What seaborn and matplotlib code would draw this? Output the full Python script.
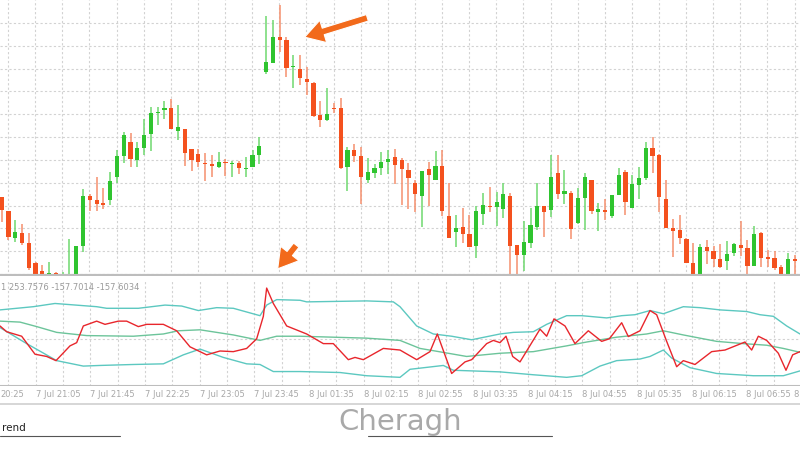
import matplotlib
matplotlib.use("Agg")
import matplotlib.pyplot as plt
import numpy as np
import pandas as pd
import seaborn as sns

# ---------------------------------------------------------------- candles (price units)
opens = [250, 208, 125, 142, 112, 52, 28, 18, 22, 10, 10, 10, 102, 252, 240, 230, 240, 310, 372, 415,
         360, 397, 438, 500, 510, 517, 448, 453, 394, 378, 352, 348, 340, 355, 348, 352, 333, 340, 375, 625,
         650, 730, 720, 638, 632, 604, 590, 495, 480, 515, 515, 338, 390, 372, 300, 320, 335, 353, 368, 360,
         330, 290, 253, 333, 300, 342, 192, 143, 158, 137, 102, 197, 222, 220, 213, 252, 105, 75, 112, 160,
         223, 210, 320, 258, 260, 172, 245, 300, 205, 210, 192, 255, 323, 217, 285, 305, 395, 375, 242, 155,
         150, 123, 50, 10, 100, 87, 62, 57, 80, 105, 95, 43, 140, 68, 65, 38, 10, 63]
closes = [210, 128, 143, 112, 35, 10, 15, 22, 12, 15, 15, 102, 252, 240, 227, 225, 297, 372, 435, 362,
          397, 435, 500, 505, 517, 452, 458, 380, 360, 355, 348, 343, 353, 350, 352, 337, 337, 375, 403, 653,
          730, 720, 635, 642, 605, 593, 492, 480, 498, 513, 335, 390, 372, 310, 325, 335, 353, 363, 345, 333,
          305, 257, 327, 315, 342, 207, 125, 157, 138, 100, 207, 225, 218, 235, 257, 102, 75, 113, 165, 223,
          203, 308, 258, 268, 153, 245, 308, 207, 212, 205, 255, 315, 233, 287, 305, 395, 373, 248, 157, 148,
          127, 52, 10, 100, 87, 62, 38, 78, 107, 95, 43, 138, 67, 63, 37, 10, 63, 58]
highs = [250, 208, 180, 168, 140, 55, 45, 55, 25, 25, 122, 102, 272, 257, 310, 275, 325, 390, 445, 440,
         415, 482, 518, 518, 538, 543, 525, 453, 394, 392, 380, 375, 385, 362, 357, 357, 368, 390, 430, 792,
         780, 825, 730, 675, 675, 640, 595, 538, 575, 530, 545, 400, 408, 400, 365, 348, 385, 390, 392, 365,
         350, 300, 327, 353, 387, 390, 292, 195, 215, 195, 222, 262, 278, 265, 292, 260, 105, 177, 215, 290,
         223, 375, 375, 330, 268, 277, 322, 300, 230, 242, 255, 335, 330, 315, 340, 415, 430, 378, 300, 183,
         195, 125, 112, 107, 120, 103, 107, 118, 110, 177, 120, 162, 145, 90, 88, 45, 80, 75]
lows = [175, 120, 115, 105, 30, 10, 10, 10, 10, 10, 10, 10, 85, 208, 207, 212, 225, 292, 352, 340,
        340, 375, 388, 465, 482, 452, 420, 343, 328, 338, 298, 308, 335, 312, 308, 318, 310, 338, 348, 618,
        650, 685, 608, 575, 585, 555, 490, 458, 478, 500, 332, 268, 355, 228, 290, 305, 315, 318, 288, 225,
        212, 205, 160, 222, 300, 192, 125, 100, 110, 100, 65, 165, 203, 163, 185, 10, 10, 28, 95, 150,
        130, 190, 242, 228, 122, 168, 150, 197, 147, 180, 185, 255, 195, 215, 243, 300, 322, 205, 155, 68,
        107, 50, 10, 10, 47, 40, 37, 30, 72, 72, 12, 42, 40, 40, 30, 10, 10, 10]

# ---------------------------------------------------------------- indicator (screen units, inverted)
cci_x = [0, 20, 65, 105, 140, 168, 210, 230, 250, 290, 315, 355, 380, 415, 440, 490, 530, 570, 620, 660,
         700, 740, 770, 790, 800, 820, 860, 920, 970, 1000, 1045, 1065, 1090, 1150, 1200, 1250, 1290, 1312,
         1355, 1395, 1415, 1460, 1480, 1500, 1518, 1538, 1560, 1620, 1640, 1662, 1695, 1725, 1765, 1805, 1828,
         1865, 1885, 1920, 1950, 1970, 2000, 2030, 2050, 2085, 2135, 2175, 2235, 2255, 2275, 2300, 2335, 2358,
         2378, 2400]
cci_y = [160, 178, 192, 248, 255, 268, 222, 212, 160, 145, 155, 145, 145, 162, 155, 155, 175, 225, 250, 238,
         240, 230, 200, 130, 42, 90, 160, 185, 215, 215, 265, 258, 265, 230, 235, 265, 240, 185, 308, 272,
         265, 215, 205, 212, 192, 255, 272, 170, 192, 138, 160, 215, 175, 208, 200, 150, 193, 175, 112, 125,
         208, 287, 268, 280, 240, 235, 210, 235, 192, 205, 245, 298, 250, 240]
up_x = [0, 100, 165, 290, 320, 415, 495, 545, 595, 650, 700, 780, 800, 830, 900, 920, 1100, 1180, 1200,
        1250, 1300, 1355, 1415, 1500, 1540, 1600, 1640, 1700, 1745, 1820, 1865, 1905, 1950, 1990, 2050, 2100,
        2160, 2240, 2280, 2320, 2360, 2400]
up_y = [110, 100, 90, 100, 105, 105, 95, 98, 112, 103, 105, 128, 95, 78, 80, 85, 82, 85, 100,
        160, 185, 192, 203, 185, 180, 178, 155, 128, 128, 135, 128, 125, 112, 122, 100, 103,
        110, 115, 125, 130, 160, 185]
mid_x = [0, 60, 110, 170, 260, 400, 490, 535, 600, 700, 780, 830, 900, 1100, 1200, 1260, 1300, 1400,
         1500, 1600, 1700, 1760, 1850, 1940, 1990, 2050, 2150, 2230, 2300, 2350, 2400]
mid_y = [145, 148, 162, 180, 190, 192, 185, 175, 172, 188, 205, 192, 192, 198, 205, 230, 237, 255,
         245, 240, 222, 210, 195, 185, 175, 188, 208, 215, 220, 230, 242]
low_x = [0, 80, 170, 250, 300, 400, 490, 550, 600, 670, 740, 780, 820, 900, 1020, 1100, 1200, 1230, 1330,
         1360, 1500, 1600, 1700, 1745, 1800, 1850, 1920, 1950, 1990, 2015, 2070, 2150, 2260, 2350, 2400]
low_y = [165, 215, 268, 285, 283, 280, 278, 250, 232, 258, 278, 280, 302, 302, 305, 315, 320, 295, 283,
         298, 303, 312, 320, 315, 285, 268, 263, 255, 235, 260, 290, 308, 315, 315, 300]

# ---------------------------------------------------------------- axis labels
time_labels = ["7 Jul 21:05", "7 Jul 21:45", "7 Jul 22:25", "7 Jul 23:05", "7 Jul 23:45",
               "8 Jul 01:35", "8 Jul 02:15", "8 Jul 02:55", "8 Jul 03:35", "8 Jul 04:15", "8 Jul 04:55",
               "8 Jul 05:35", "8 Jul 06:15", "8 Jul 06:55"]
first_label = "20:25"
last_label = "8"
readout = "1 253.7576 -157.7014 -157.6034"

GREEN = "#2fc42f"
RED = "#f4511e"
GREEN_W = "#6fd86f"
RED_W = "#f5906e"
TEAL = "#5cc8c0"
MIDC = "#6cc49a"
GRID = "#d2d2d2"

sns.set_theme(style="white")
plt.rcParams["font.family"] = ["DejaVu Sans"]

fig = plt.figure(figsize=(8, 4.5), dpi=100)
ax = fig.add_axes([0, 1 - 276 / 450, 1, 276 / 450])
ax2 = fig.add_axes([0, 1 - 386 / 450, 1, 105 / 450])

# ---- candles
df = pd.DataFrame({"o": opens, "c": closes, "h": highs, "l": lows})
df["i"] = np.arange(len(df))
up = df["c"] >= df["o"]
ax.vlines(df["i"][up], df["l"][up], df["h"][up], color=GREEN_W, lw=1.1, zorder=2)
ax.vlines(df["i"][~up], df["l"][~up], df["h"][~up], color=RED_W, lw=1.1, zorder=2)
body_lo = df[["o", "c"]].min(axis=1)
body_h = (df["c"] - df["o"]).abs().clip(lower=3)
ax.bar(df["i"], body_h, bottom=body_lo, width=0.62,
       color=[GREEN if u else RED for u in up], zorder=3, linewidth=0)
ax.set_xlim(-0.25, 117.75)
ax.set_ylim(12, 840)
ax.set_xticks(np.arange(0.95, 118, 4))
ax.set_yticks(np.arange(18, 840, 68.5))
ax.grid(True, color=GRID, ls=(0, (2, 2)), lw=0.8)
ax.tick_params(left=False, bottom=False, labelleft=False, labelbottom=False)
for s in ax.spines.values():
    s.set_visible(False)
ax.axhline(12, color="#bdbdbd", lw=3, zorder=5)

# ---- indicator
for xs, ys, col in [(up_x, up_y, TEAL), (mid_x, mid_y, MIDC), (low_x, low_y, TEAL), (cci_x, cci_y, "#e8262c")]:
    sns.lineplot(x=xs, y=ys, ax=ax2, color=col, lw=1.0, sort=False, estimator=None)
ax2.set_xlim(0, 2400)
ax2.set_ylim(347, 20)
ax2.set_xticks(np.arange(25, 2400, 82))
ax2.set_yticks([200])
ax2.grid(True, color=GRID, ls=(0, (2, 2)), lw=0.8)
ax2.tick_params(left=False, bottom=False, labelleft=False, labelbottom=False)
for s in ax2.spines.values():
    s.set_visible(False)
ax2.axhline(347, color="#bdbdbd", lw=1.5)
ax2.text(2, 25, readout, fontsize=6.0, color="#9a9a9a", va="top", ha="left")
ax2.text(2, 358, first_label, fontsize=6.0, color="#a8a8a8", va="top", ha="left")
for k, lab in enumerate(time_labels):
    ax2.text(107 + 164 * k, 358, lab, fontsize=6.0, color="#a8a8a8", va="top", ha="left")
ax2.text(2380, 358, last_label, fontsize=6.0, color="#a8a8a8", va="top", ha="left")

# ---- arrows
for (x0, y0), (x1, y1) in [((370, 17), (302, 38)), ((298, 243), (276, 271))]:
    fig.patches.append(matplotlib.patches.FancyArrowPatch(
        (x0 / 800, 1 - y0 / 450), (x1 / 800, 1 - y1 / 450), transform=fig.transFigure,
        arrowstyle="simple,head_width=1.2,head_length=1.0,tail_width=0.35", mutation_scale=14,
        color="#f26a1b", ec="white", lw=0.8, zorder=10))

# ---- bottom strip
fig.add_artist(plt.Line2D([0, 1], [1 - 404 / 450] * 2, color="#d0d0d0", lw=1.2))
fig.add_artist(plt.Line2D([0, 0.15], [1 - 436 / 450] * 2, color="#555555", lw=0.8))
fig.add_artist(plt.Line2D([0.46, 0.69], [1 - 436 / 450] * 2, color="#555555", lw=0.8))
fig.text(0.002, 1 - 428 / 450, "rend", fontsize=7.5, color="#222222", va="center")
fig.text(0.5, 1 - 422 / 450, "Cheragh", fontsize=21, color="#a9a9a9", va="center", ha="center")

fig.savefig("out.png", dpi=100)
